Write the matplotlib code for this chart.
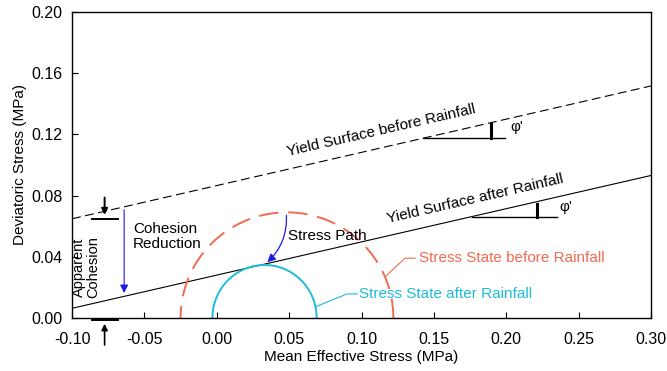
import numpy as np
import matplotlib.pyplot as plt
from matplotlib.patches import FancyArrowPatch

plt.rcParams['font.family'] = ['Liberation Sans', 'DejaVu Sans']

# yield surfaces (q = a + M p)
slope = 0.217
a_before = 0.0865
a_after = 0.028
p_line = [-0.10, 0.30]

# stress circles: centre, half width, height
c_before, rx_before, ry_before = 0.0485, 0.0735, 0.069
c_after, rx_after, ry_after = 0.033, 0.036, 0.0346

xticks = [-0.10, -0.05, 0.00, 0.05, 0.10, 0.15, 0.20, 0.25, 0.30]
yticks = [0.00, 0.04, 0.08, 0.12, 0.16, 0.20]

red = '#F26A4F'
cyan = '#1DBCD8'
blue = '#1A1AE6'
fs = 11

fig = plt.figure(figsize=(6.67, 3.71), dpi=100)
ax = fig.add_axes([0.108, 0.143, 0.868, 0.825])

p = np.array(p_line)
ax.plot(p, a_before + slope * p, color='black', lw=0.8, ls=(0, (8, 4)))
ax.plot(p, a_after + slope * p, color='black', lw=0.8)

t = np.linspace(0, np.pi, 200)
ax.plot(c_before + rx_before * np.cos(t), ry_before * np.sin(t), color=red, lw=1.4, ls=(0, (10, 5)))
ax.plot(c_after + rx_after * np.cos(t), ry_after * np.sin(t), color=cyan, lw=1.4)

# labels on yield lines
ang = np.degrees(np.arctan(slope * (306 / 0.2) / (579 / 0.4)))
ax.text(0.1134, 0.1222, 'Yield Surface before Rainfall', rotation=ang, ha='center', va='center', fontsize=fs)
ax.text(0.1784, 0.0777, 'Yield Surface after Rainfall', rotation=ang, ha='center', va='center', fontsize=fs)

# phi markers
ax.plot([0.1425, 0.1991], [0.1176, 0.1176], color='black', lw=1)
ax.plot([0.1894, 0.1894], [0.1176, 0.1268], color='black', lw=2.2)
ax.text(0.2026, 0.1245, "φ'", fontsize=fs, ha='left', va='center')
ax.plot([0.1763, 0.235], [0.066, 0.066], color='black', lw=1)
ax.plot([0.2212, 0.2212], [0.066, 0.0745], color='black', lw=2.2)
ax.text(0.2365, 0.0728, "φ'", fontsize=fs, ha='left', va='center')

# cohesion reduction arrow
ax.annotate('', xy=(-0.064, 0.0145), xytext=(-0.064, 0.0725),
            arrowprops=dict(arrowstyle='-|>', color=blue, lw=0.8, mutation_scale=12))
ax.text(-0.0579, 0.053, 'Cohesion\nReduction', fontsize=fs, ha='left', va='center', linespacing=1.1)

# stress path
arr = FancyArrowPatch((0.048, 0.0688), (0.0335, 0.0352), connectionstyle='arc3,rad=-0.25',
                      arrowstyle='-|>', color=blue, lw=0.9, mutation_scale=12)
ax.add_patch(arr)
ax.text(0.049, 0.0535, 'Stress Path', fontsize=fs, ha='left', va='center')

# apparent cohesion
ax.text(-0.0905, 0.033, 'Apparent\nCohesion', rotation=90, fontsize=10.5, ha='center', va='center', linespacing=1.0)
ax.plot([-0.0865, -0.0685], [0.0648, 0.0648], color='black', lw=1.4)
ax.annotate('', xy=(-0.0775, 0.0655), xytext=(-0.0775, 0.0805),
            arrowprops=dict(arrowstyle='-|>', color='black', lw=1.4, mutation_scale=9))
ax.plot([-0.0865, -0.0685], [-0.0012, -0.0012], color='black', lw=1.4, clip_on=False)
ax.annotate('', xy=(-0.0775, -0.002), xytext=(-0.0775, -0.0195),
            arrowprops=dict(arrowstyle='-|>', color='black', lw=1.2, mutation_scale=9),
            annotation_clip=False)

# leader lines and circle labels
ax.plot([0.117, 0.130, 0.137], [0.0275, 0.039, 0.039], color=red, lw=0.8)
ax.text(0.1395, 0.039, 'Stress State before Rainfall', color=red, fontsize=fs, ha='left', va='center')
ax.plot([0.068, 0.090, 0.097], [0.0072, 0.0157, 0.0157], color=cyan, lw=0.8)
ax.text(0.0985, 0.0157, 'Stress State after Rainfall', color=cyan, fontsize=fs, ha='left', va='center')

ax.set_xlim(-0.10, 0.30)
ax.set_ylim(0.0, 0.20)
ax.set_xticks(xticks)
ax.set_yticks(yticks)
ax.set_xticklabels(['%.2f' % v for v in xticks])
ax.set_yticklabels(['%.2f' % v for v in yticks])
ax.tick_params(direction='in', length=4, width=0.8, labelsize=11.5)
ax.tick_params(axis='x', pad=10)
ax.tick_params(axis='y', pad=7)
for s in ax.spines.values():
    s.set_linewidth(1.0)
ax.set_xlabel('Mean Effective Stress (MPa)', fontsize=11, labelpad=2)
ax.set_ylabel('Deviatoric Stress (MPa)', fontsize=11, labelpad=3)

fig.savefig('out.png', dpi=100)
